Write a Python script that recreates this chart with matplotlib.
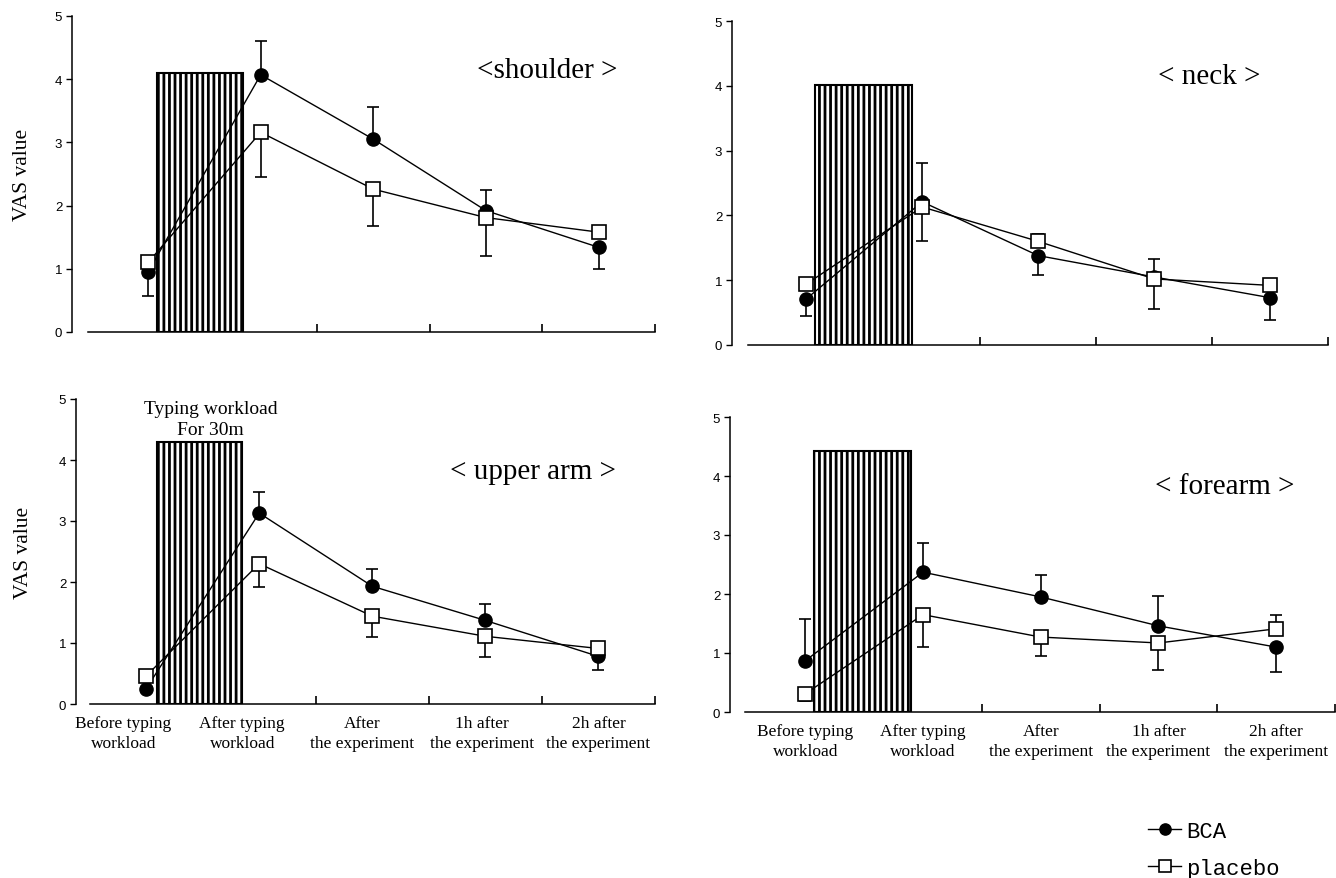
import numpy as np
import matplotlib
matplotlib.use("Agg")
import matplotlib.pyplot as plt

plt.rcParams["hatch.linewidth"] = 2.0

# time points
categories = ["Before typing\nworkload", "After typing\nworkload", "After\nthe experiment",
              "1h after\nthe experiment", "2h after\nthe experiment"]
x = np.arange(len(categories))

# shoulder
shoulder_bca = [0.95, 4.07, 3.05, 1.92, 1.34]
shoulder_bca_lo = [0.38, 0, 0, 0, 0.35]
shoulder_bca_hi = [0, 0.53, 0.51, 0.33, 0]
shoulder_pla = [1.10, 3.16, 2.26, 1.81, 1.58]
shoulder_pla_lo = [0, 0.70, 0.59, 0.60, 0]
shoulder_pla_hi = [0, 0, 0, 0, 0]

# neck
neck_bca = [0.71, 2.21, 1.38, 1.05, 0.73]
neck_bca_lo = [0.26, 0, 0.30, 0, 0.34]
neck_bca_hi = [0, 0.60, 0, 0.28, 0]
neck_pla = [0.94, 2.13, 1.60, 1.02, 0.92]
neck_pla_lo = [0, 0.53, 0, 0.46, 0]
neck_pla_hi = [0, 0, 0.12, 0, 0]

# upper arm
uarm_bca = [0.25, 3.13, 1.93, 1.37, 0.78]
uarm_bca_lo = [0, 0, 0, 0, 0.23]
uarm_bca_hi = [0, 0.34, 0.29, 0.27, 0]
uarm_pla = [0.46, 2.30, 1.44, 1.11, 0.91]
uarm_pla_lo = [0, 0.38, 0.34, 0.34, 0]
uarm_pla_hi = [0, 0, 0, 0, 0.06]

# forearm
farm_bca = [0.87, 2.37, 1.95, 1.46, 1.10]
farm_bca_lo = [0, 0, 0, 0, 0.43]
farm_bca_hi = [0.70, 0.49, 0.37, 0.51, 0]
farm_pla = [0.31, 1.65, 1.27, 1.17, 1.41]
farm_pla_lo = [0.13, 0.55, 0.32, 0.45, 0]
farm_pla_hi = [0, 0, 0, 0, 0.23]

# height of the typing workload block in each panel
workload_top = [4.10, 4.02, 4.30, 4.42]

titles = ["<shoulder >", "< neck >", "< upper arm >", "< forearm >"]

W, H = 1336, 879
fig = plt.figure(figsize=(W / 100, H / 100), dpi=100)

serif = "Liberation Serif"
sans = "Liberation Sans"

# pixel layout: left spine, right end, bottom (y=0), top (y=5), x-axis start, bar span, title pos
layout = [
    dict(L=72, R=655, B=333, T=17, xleft=-0.675, xstart=-0.53, bar=(0.08, 0.84),
         title=(3.54, 4.15), labels=None, ylab=-0.068),
    dict(L=732, R=1328, B=346, T=22, xleft=-0.64, xstart=-0.5, bar=(0.08, 0.91),
         title=(3.48, 4.15), labels=None, ylab=None),
    dict(L=76, R=655, B=705, T=400, xleft=-0.62, xstart=-0.5, bar=(0.10, 0.85),
         title=(3.42, 3.82), labels=[-0.2, 0.85, 1.91, 2.97, 4.0], ylab=-0.075),
    dict(L=730, R=1335, B=713, T=418, xleft=-0.64, xstart=-0.51, bar=(0.07, 0.90),
         title=(3.56, 3.83), labels=[0, 1, 2, 3, 4], ylab=None),
]

data = [
    (shoulder_bca, shoulder_bca_lo, shoulder_bca_hi, shoulder_pla, shoulder_pla_lo, shoulder_pla_hi),
    (neck_bca, neck_bca_lo, neck_bca_hi, neck_pla, neck_pla_lo, neck_pla_hi),
    (uarm_bca, uarm_bca_lo, uarm_bca_hi, uarm_pla, uarm_pla_lo, uarm_pla_hi),
    (farm_bca, farm_bca_lo, farm_bca_hi, farm_pla, farm_pla_lo, farm_pla_hi),
]

handles = None
for i, (lay, d) in enumerate(zip(layout, data)):
    ax = fig.add_axes([lay["L"] / W, 1 - lay["B"] / H,
                       (lay["R"] - lay["L"]) / W, (lay["B"] - lay["T"]) / H])
    ax.set_xlim(lay["xleft"], 4.5)
    ax.set_ylim(0, 5)
    for s in ["top", "right"]:
        ax.spines[s].set_visible(False)
    ax.spines["left"].set_bounds(0, 5)
    ax.spines["bottom"].set_bounds(lay["xstart"], 4.5)
    for s in ["left", "bottom"]:
        ax.spines[s].set_linewidth(1.1)

    # typing workload block
    b0, b1 = lay["bar"]
    ax.bar((b0 + b1) / 2, workload_top[i], width=b1 - b0, facecolor="white",
           edgecolor="black", hatch="|||", linewidth=1.5, zorder=1)

    bca, bca_lo, bca_hi, pla, pla_lo, pla_hi = d
    ax.errorbar(x, bca, yerr=[bca_lo, bca_hi], fmt="none", ecolor="black",
                elinewidth=1.2, capsize=4.5, capthick=1.2, zorder=2, clip_on=False)
    ax.errorbar(x, pla, yerr=[pla_lo, pla_hi], fmt="none", ecolor="black",
                elinewidth=1.2, capsize=4.5, capthick=1.2, zorder=2, clip_on=False)
    l1, = ax.plot(x, bca, color="black", lw=1.0, marker="o", ms=9.5,
                  mfc="black", mec="black", zorder=3, clip_on=False, label="BCA")
    l2, = ax.plot(x, pla, color="black", lw=1.0, marker="s", ms=9.5,
                  mfc="white", mec="black", mew=1.2, zorder=4, clip_on=False, label="placebo")
    if handles is None:
        handles = [l1, l2]

    ax.set_yticks(range(6))
    ax.tick_params(axis="y", direction="out", length=4, width=1.0, pad=3, labelsize=9.5)
    for t in ax.get_yticklabels():
        t.set_fontfamily(sans)

    ax.set_xticks([1.5, 2.5, 3.5, 4.5], minor=True)
    ax.tick_params(axis="x", which="minor", direction="in", length=6, width=1.2)
    if lay["labels"] is not None:
        ax.set_xticks(lay["labels"])
        ax.set_xticklabels(categories, fontfamily=serif, fontsize=12.5, linespacing=1.3)
        ax.tick_params(axis="x", which="major", length=0, pad=8)
    else:
        ax.set_xticks([])

    if lay["ylab"] is not None:
        ax.set_ylabel("VAS value", fontfamily=serif, fontsize=15.5)
        ax.yaxis.set_label_coords(lay["ylab"], 0.5)

    ax.text(lay["title"][0], lay["title"][1], titles[i], fontfamily=serif,
            fontsize=21, ha="center", va="center")

    if i == 2:
        ax.text(0.57, 4.67, "Typing workload\nFor 30m", fontfamily=serif, fontsize=14,
                ha="center", va="center", linespacing=1.3)

fig.legend(handles=handles, loc="upper left", bbox_to_anchor=(1128 / W, 1 - 802 / H),
           frameon=False, handlelength=1.5, handletextpad=0.2, labelspacing=0.7,
           markerscale=0.85, prop={"family": "Liberation Mono", "size": 16})

fig.savefig("out.png", dpi=100)
